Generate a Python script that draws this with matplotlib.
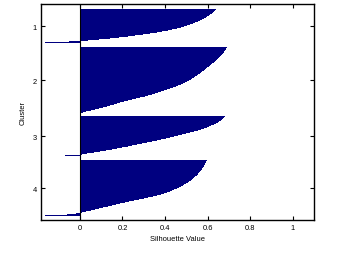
import matplotlib
matplotlib.use("Agg")
import matplotlib.pyplot as plt
import numpy as np

cluster_labels = ["1", "2", "3", "4"]
x_ticks = [0, 0.2, 0.4, 0.6, 0.8, 1]
x_tick_labels = ["0", "0.2", "0.4", "0.6", "0.8", "1"]

# silhouette values per cluster, sorted
sil_c1 = [0.638, 0.636, 0.632, 0.627, 0.62, 0.613, 0.605, 0.598, 0.591, 0.584,
          0.576, 0.566, 0.554, 0.541, 0.53, 0.518, 0.505, 0.49, 0.474, 0.455,
          0.435, 0.413, 0.388, 0.36, 0.33, 0.296, 0.26, 0.225, 0.185, 0.14,
          0.09, 0.04, -0.05, -0.165]
sil_c2 = [0.69, 0.688, 0.685, 0.682, 0.678, 0.675, 0.671, 0.667, 0.662, 0.658,
          0.653, 0.649, 0.644, 0.639, 0.634, 0.628, 0.622, 0.617, 0.611, 0.605,
          0.599, 0.593, 0.587, 0.581, 0.575, 0.569, 0.563, 0.557, 0.55, 0.543,
          0.536, 0.528, 0.52, 0.511, 0.502, 0.493, 0.483, 0.473, 0.462, 0.451,
          0.439, 0.425, 0.41, 0.396, 0.382, 0.368, 0.354, 0.339, 0.322, 0.304,
          0.284, 0.265, 0.245, 0.226, 0.207, 0.19, 0.175, 0.16, 0.143, 0.126,
          0.109, 0.09, 0.07, 0.05, 0.03, 0.012]
sil_c3 = [0.68, 0.677, 0.673, 0.668, 0.662, 0.655, 0.647, 0.638, 0.628, 0.618,
          0.608, 0.597, 0.584, 0.569, 0.553, 0.536, 0.518, 0.5, 0.482, 0.463,
          0.444, 0.424, 0.404, 0.383, 0.361, 0.339, 0.316, 0.293, 0.27, 0.247,
          0.224, 0.2, 0.175, 0.15, 0.123, 0.095, 0.065, 0.035, 0.01, -0.07]
sil_c4 = [0.596, 0.594, 0.592, 0.589, 0.587, 0.584, 0.581, 0.578, 0.575, 0.572,
          0.569, 0.565, 0.561, 0.557, 0.553, 0.548, 0.543, 0.538, 0.532, 0.526,
          0.52, 0.513, 0.506, 0.499, 0.491, 0.483, 0.474, 0.465, 0.455, 0.444,
          0.433, 0.421, 0.408, 0.394, 0.379, 0.362, 0.343, 0.322, 0.3, 0.277,
          0.254, 0.232, 0.211, 0.19, 0.17, 0.15, 0.13, 0.11, 0.09, 0.07,
          0.05, 0.03, 0.01, -0.02, -0.06, -0.165]

clusters = [sil_c1, sil_c2, sil_c3, sil_c4]

plt.rcParams['font.family'] = ['Liberation Sans', 'DejaVu Sans']
fig = plt.figure(figsize=(3.37, 2.55), dpi=100)
ax = fig.add_axes([0.1217, 0.1345, 0.81, 0.8445])

top_margin = 4.7
gaps = [4, 3, 4]
bottom_margin = 3.7
pos = top_margin
centers = []
for i, vals in enumerate(clusters):
    n = len(vals)
    ys = pos + np.arange(n) + 0.5
    ax.barh(ys, vals, height=1.0, color='#000080', edgecolor='none',
            linewidth=0, antialiased=False)
    centers.append(pos + n / 2.0)
    pos += n + (gaps[i] if i < len(gaps) else 0)
total = pos + bottom_margin

ax.set_ylim(total, 0)
ax.set_xlim(-0.183, 1.1)
ax.axvline(0, color='black', lw=0.8)

ax.set_yticks(centers)
ax.set_yticklabels(cluster_labels)
ax.set_xticks(x_ticks)
ax.set_xticklabels(x_tick_labels)
ax.tick_params(direction='in', length=3, width=0.8, labelsize=5.4,
               top=True, right=True, pad=3)
for s in ax.spines.values():
    s.set_linewidth(1.0)
ax.set_xlabel("Silhouette Value", fontsize=5.4, labelpad=3)
ax.set_ylabel("Cluster", fontsize=5.4, labelpad=4)

fig.savefig("out.png", dpi=100)
